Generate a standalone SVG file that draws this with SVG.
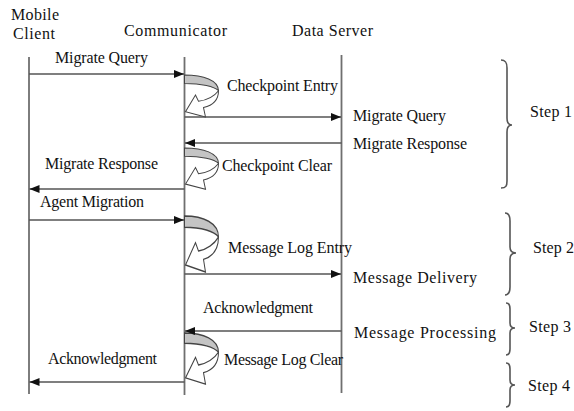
<svg xmlns="http://www.w3.org/2000/svg" xmlns:xlink="http://www.w3.org/1999/xlink" width="574" height="411" viewBox="0 0 574 411">
<style>
text{font-family:"Liberation Serif","Times New Roman",serif;font-size:16px;fill:#111}
.life{stroke:#6f6f6f;stroke-width:1.8;fill:none}
.msg{stroke:#555;stroke-width:1.6;fill:none;marker-end:url(#ah)}
.brace{stroke:#555;stroke-width:1.6;fill:none}
.gray{fill:#c4c4c4;stroke:#444;stroke-width:1}
.white{fill:#fff;stroke:#444;stroke-width:1}
</style>
<defs>
<marker id="ah" markerUnits="userSpaceOnUse" markerWidth="11" markerHeight="8" refX="10" refY="4" orient="auto">
<path d="M0,0 L10,4 L0,8 Z" fill="#111"/>
</marker>
<g id="loop">
<path class="gray" d="M0,0 C19,0 34,5 34,15 C30,11 17,8 0,8 Z"/>
<path class="white" d="M34,15 C34,24 28,29 19,31 L21,40 L1,35 L11,19 L14,25 C22,24 30,20 34,15 Z"/>
</g>
</defs>
<rect width="574" height="411" fill="#fff"/>

<g id="mobile-client">
<text x="11" y="20" textLength="48">Mobile</text>
<text x="13" y="39" textLength="42">Client</text>
<line class="life" x1="29" y1="57" x2="29" y2="394"/>
</g>
<g id="communicator">
<text x="124" y="36" textLength="103">Communicator</text>
<line class="life" x1="184.5" y1="57" x2="184.5" y2="395"/>
</g>
<g id="data-server">
<text x="292" y="36" textLength="81">Data Server</text>
<line class="life" x1="341.5" y1="55" x2="341.5" y2="393"/>
</g>

<g id="loop-checkpoint-entry">
<use xlink:href="#loop" transform="translate(184.5,75) scale(1,1.05)"/>
<text x="227" y="91" textLength="111">Checkpoint Entry</text>
</g>
<g id="loop-checkpoint-clear">
<use xlink:href="#loop" transform="translate(184.5,148) scale(1,1.03)"/>
<text x="222" y="171" textLength="110">Checkpoint Clear</text>
</g>
<g id="loop-message-log-entry">
<use xlink:href="#loop" transform="translate(184.5,216) scale(1,1.4)"/>
<text x="228" y="253" textLength="124">Message Log Entry</text>
</g>
<g id="loop-message-log-clear">
<use xlink:href="#loop" transform="translate(184.5,333) scale(1,1.28)"/>
<text x="224" y="365" textLength="119">Message Log Clear</text>
</g>

<g id="connectors">
<line class="msg" x1="29" y1="74" x2="184" y2="74"/>
<line class="msg" x1="184.5" y1="117" x2="341" y2="117"/>
<line class="msg" x1="341.5" y1="143" x2="185" y2="143"/>
<line class="msg" x1="184.5" y1="189" x2="29.5" y2="189"/>
<line class="msg" x1="29" y1="220" x2="184" y2="220"/>
<line class="msg" x1="184.5" y1="274" x2="341" y2="274"/>
<line class="msg" x1="341.5" y1="331" x2="185" y2="331"/>
<line class="msg" x1="184.5" y1="382" x2="29.5" y2="382"/>
</g>

<g id="message-labels">
<text x="55" y="63" textLength="93">Migrate Query</text>
<text x="353" y="121" textLength="93">Migrate Query</text>
<text x="353" y="149" textLength="114">Migrate Response</text>
<text x="45" y="169" textLength="113">Migrate Response</text>
<text x="40" y="207" textLength="104">Agent Migration</text>
<text x="353" y="283" textLength="124">Message Delivery</text>
<text x="203" y="313" textLength="110">Acknowledgment</text>
<text x="354" y="338" textLength="142">Message Processing</text>
<text x="48" y="364" textLength="109">Acknowledgment</text>
</g>

<g id="step-1">
<path class="brace" d="M501,60 C506,60 507,63 507,68 L507,118 C507,123 509,125 512,125 C509,125 507,127 507,132 L507,181 C507,186 506,188 501,188"/>
<text x="530" y="117" textLength="42">Step 1</text>
</g>
<g id="step-2">
<path class="brace" d="M505,213 C509,213 510,216 510,221 L510,247 C510,251 512,253 516,253 C512,253 510,255 510,259 L510,287 C510,292 509,295 505,295"/>
<text x="533" y="253" textLength="41">Step 2</text>
</g>
<g id="step-3">
<path class="brace" d="M506,303 C509,303 510,305 510,309 L510,323 C510,326 512,328 515,328 C512,328 510,330 510,333 L510,349 C510,353 509,355 506,355"/>
<text x="529" y="332" textLength="42">Step 3</text>
</g>
<g id="step-4">
<path class="brace" d="M506,363 C509,363 510,365 510,369 L510,380 C510,383 512,385 515,385 C512,385 510,387 510,390 L510,401 C510,405 509,407 506,407"/>
<text x="528" y="391" textLength="42">Step 4</text>
</g>
</svg>
